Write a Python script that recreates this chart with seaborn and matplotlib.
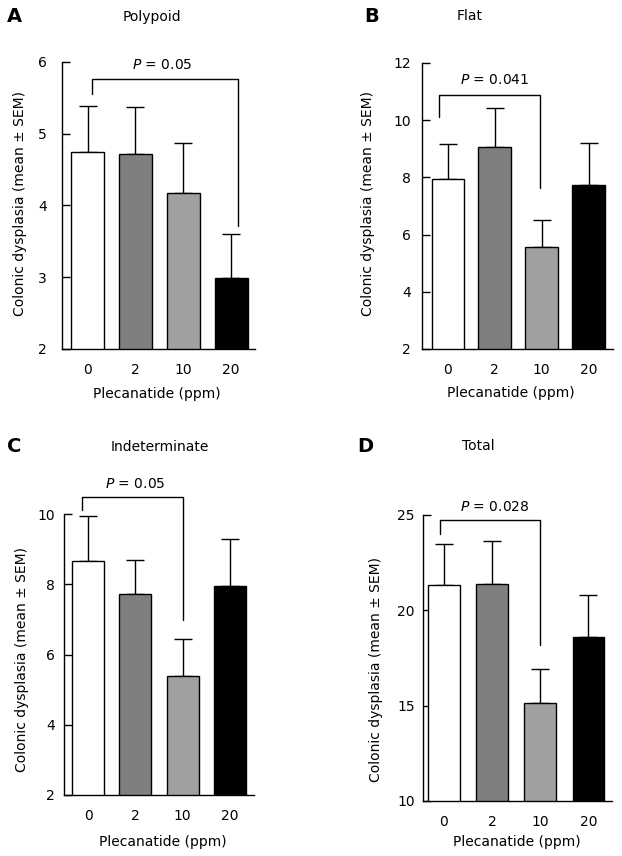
import matplotlib
matplotlib.use("Agg")
import matplotlib.pyplot as plt
import seaborn as sns
import pandas as pd
import numpy as np

sns.set_theme(style="ticks")
plt.rcParams['font.family'] = ['DejaVu Sans']
plt.rcParams['mathtext.fontset'] = 'dejavusans'

doses = ["0", "2", "10", "20"]
bar_colors = ["#ffffff", "#7f7f7f", "#a0a0a0", "#000000"]

titles = ["Polypoid", "Flat", "Indeterminate", "Total"]
letters = ["A", "B", "C", "D"]

polypoid_mean = [4.75, 4.72, 4.18, 2.99]
polypoid_sem = [0.64, 0.65, 0.69, 0.61]
flat_mean = [7.94, 9.06, 5.56, 7.73]
flat_sem = [1.22, 1.36, 0.94, 1.47]
indet_mean = [8.66, 7.71, 5.38, 7.95]
indet_sem = [1.28, 0.99, 1.05, 1.35]
total_mean = [21.35, 21.40, 15.12, 18.59]
total_sem = [2.13, 2.26, 1.78, 2.19]

p_labels = ["0.05", "0.041", "0.05", "0.028"]
y_ranges = [(2, 6), (2, 12), (2, 10), (10, 25)]
y_ticks = [[2, 3, 4, 5, 6], [2, 4, 6, 8, 10, 12], [2, 4, 6, 8, 10], [10, 15, 20, 25]]

means = [polypoid_mean, flat_mean, indet_mean, total_mean]
sems = [polypoid_sem, flat_sem, indet_sem, total_sem]

W, H = 622, 856
fig = plt.figure(figsize=(W / 100, H / 100), dpi=100)

# axes boxes in pixels: left, right, top, bottom
boxes = [(62, 255, 62, 349), (422, 613, 63, 349), (64, 254, 514, 795), (423, 612, 515, 801)]
xlims = [(-0.533, 3.50), (-0.554, 3.52), (-0.51, 3.51), (-0.436, 3.49)]
bar_widths = [0.69, 0.70, 0.68, 0.66]
ytick_pads = [11, 8, 6.5, 6]
# bracket: x_left, x_right, y_top, y_left_end, y_right_end ; p text x, y
brackets = [(0.10, 3.15, 5.77, 5.55, 3.71, 1.56, 5.96),
            (-0.19, 1.97, 10.87, 10.11, 7.62, 1.0, 11.42),
            (-0.13, 2.0, 10.49, 10.12, 6.98, 1.0, 10.84),
            (-0.09, 1.99, 24.74, 24.02, 18.17, 1.06, 25.40)]
letter_pos = [(14, 17), (372, 17), (14, 447), (365, 447)]
title_pos = [(152, 17), (470, 16), (160, 447), (478, 446)]
ylabel_x = [20, 368, 22, 376]
ylabel_y = [204, 204, 660, 670]
xlabel_x = [157, 511, 163, 517]
xlabel_y = [394, 393, 842, 842]

for i in range(4):
    l, r, t, b = boxes[i]
    ax = fig.add_axes([l / W, 1 - b / H, (r - l) / W, (b - t) / H])
    df = pd.DataFrame({"dose": doses, "value": means[i]})
    sns.barplot(data=df, x="dose", y="value", hue="dose", order=doses, hue_order=doses,
                palette=bar_colors, edgecolor="black", linewidth=1.0,
                width=bar_widths[i], legend=False, ax=ax, zorder=3)
    xs = np.arange(4)
    ax.errorbar(xs, means[i], yerr=[np.zeros(4), sems[i]], fmt="none",
                ecolor="black", elinewidth=1.0, capsize=6.5, capthick=1.0, zorder=2)
    ax.set_xlim(*xlims[i])
    ax.set_ylim(*y_ranges[i])
    ax.set_yticks(y_ticks[i])
    ax.set_yticklabels([str(v) for v in y_ticks[i]])
    for s in ["top", "right"]:
        ax.spines[s].set_visible(False)
    for s in ["left", "bottom"]:
        ax.spines[s].set_linewidth(1.0)
        ax.spines[s].set_color("black")
        ax.spines[s].set_zorder(5)
    ax.tick_params(axis="y", direction="in", length=5.5, width=1.0, pad=ytick_pads[i],
                   labelsize=10, colors="black")
    ax.tick_params(axis="x", length=0, pad=10, labelsize=10, colors="black")
    ax.set_xlabel("Plecanatide (ppm)", fontsize=10, va="center", color="black")
    ax.xaxis.set_label_coords(xlabel_x[i] / W, 1 - xlabel_y[i] / H, transform=fig.transFigure)
    ax.set_ylabel("Colonic dysplasia (mean \u00b1 SEM)", fontsize=10, va="center", color="black")
    ax.yaxis.set_label_coords(ylabel_x[i] / W, 1 - ylabel_y[i] / H, transform=fig.transFigure)

    xl, xr, yt, yle, yre, px, py = brackets[i]
    ax.plot([xl, xl, xr, xr], [yle, yt, yt, yre], color="black", lw=1.0, clip_on=False, zorder=4)
    ax.text(px, py, r"$\it{P}$ = " + p_labels[i], ha="center", va="center", fontsize=10,
            clip_on=False, color="black")

    fig.text(letter_pos[i][0] / W, 1 - letter_pos[i][1] / H, letters[i], fontsize=14,
             fontweight="bold", ha="center", va="center", color="black")
    fig.text(title_pos[i][0] / W, 1 - title_pos[i][1] / H, titles[i], fontsize=10,
             ha="center", va="center", color="black")

fig.savefig("out.png", dpi=100, facecolor="white")
